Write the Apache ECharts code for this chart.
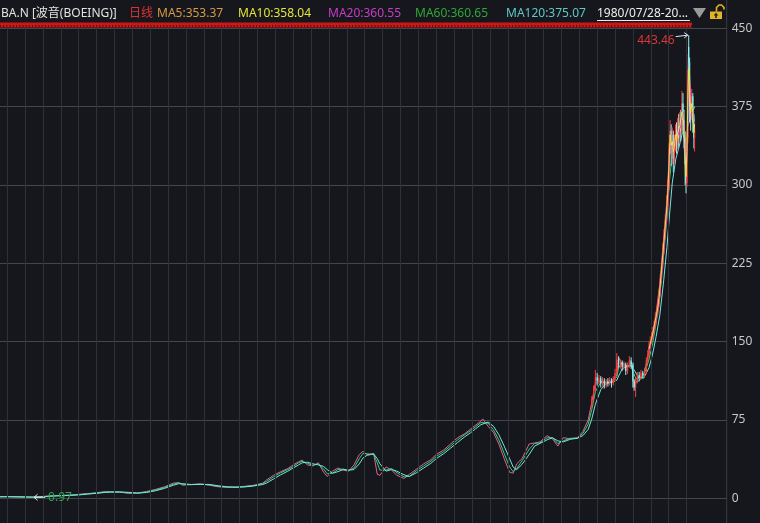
<!DOCTYPE html>
<html><head><meta charset="utf-8">
<script src="https://cdn.jsdelivr.net/npm/echarts@6/dist/echarts.min.js"></script>
<style>html,body{margin:0;padding:0;background:#16171c;}#c{width:760px;height:523px;}</style>
</head><body><div id="c"></div>
<script>
// ---- data (decimal year) ----
const dates = [
  1980.6, 1981.0, 1981.5, 1982.0, 1982.45, 1983.0, 1983.5, 1984.0, 1984.5, 1985.0,
  1985.5, 1986.0, 1986.5, 1986.8, 1987.3, 1987.8, 1988.3, 1988.8, 1989.3, 1989.8,
  1990.3, 1990.6, 1990.8, 1991.3, 1991.8, 1992.3, 1992.8, 1993.3, 1993.8, 1994.3,
  1994.8, 1995.3, 1995.5, 1995.9, 1996.3, 1996.7, 1997.0, 1997.3, 1997.5, 1997.8,
  1998.1, 1998.4, 1998.7, 1998.9, 1999.2, 1999.5, 1999.8, 2000.1, 2000.4, 2000.7,
  2000.9, 2001.2, 2001.5, 2001.7, 2001.85, 2002.2, 2002.5, 2002.8, 2003.2, 2003.5,
  2003.9, 2004.3, 2004.7, 2005.0, 2005.4, 2005.8, 2006.2, 2006.6, 2006.9, 2007.2,
  2007.5, 2007.6, 2007.9, 2008.2, 2008.5, 2008.8, 2009.1, 2009.3, 2009.5, 2009.8,
  2010.2, 2010.5, 2010.8, 2011.2, 2011.5, 2011.8, 2012.1, 2012.5, 2012.9, 2013.2,
  2013.5, 2013.7, 2013.9, 2014.2, 2014.5, 2014.8, 2015.1, 2015.2, 2015.4, 2015.7,
  2015.9, 2016.1, 2016.3, 2016.6, 2016.9, 2017.1, 2017.3, 2017.5, 2017.7, 2017.9,
  2018.05, 2018.2, 2018.4, 2018.6, 2018.8, 2018.95, 2019.1, 2019.3, 2019.45
];
const closes = [
  1.5, 1.6, 1.3, 1.2, 0.97, 1.8, 2.5, 2.7, 3.0, 3.8,
  4.5, 5.3, 6.5, 6.0, 6.0, 4.6, 5.0, 6.5, 8.5, 11,
  14.5, 15, 12.5, 13.2, 13.8, 12.5, 11, 10.5, 10.8, 11.5,
  12.5, 14.5, 17.5, 22, 25.5, 28.5, 32, 35, 36.5, 32,
  31, 34, 25, 21, 26, 29, 27, 26, 32, 42,
  45, 41, 43, 23, 22, 30, 27, 22, 19, 23,
  28, 33, 37, 42, 46, 52, 58, 62, 66, 70,
  74, 76, 69, 63, 52, 38, 25, 24, 33, 38,
  52, 53, 54, 60, 57, 50, 58, 57, 58, 64,
  75, 92, 110, 112, 110, 112, 118, 135, 128, 125,
  130, 108, 115, 118, 140, 155, 178, 205, 245, 285,
  335, 340, 345, 352, 365, 305, 425, 368, 352
];
const ma60 = [
  1.5, 1.6, 1.4, 1.2, 1.1, 1.5, 2.3, 2.6, 2.9, 3.5,
  4.3, 5.0, 6.0, 6.2, 6.0, 5.3, 4.9, 6.0, 8.0, 10.3,
  13.5, 14.8, 13.5, 13.0, 13.5, 13.0, 11.5, 10.7, 10.6, 11.2,
  12.2, 14.0, 16.0, 20.5, 24.5, 27.5, 30.5, 34.0, 35.5, 33.5,
  31.5, 33.0, 28.0, 23.5, 24.0, 27.5, 28.0, 26.5, 29.0, 38.0,
  43.0, 42.5, 42.0, 34.0, 27.0, 27.0, 28.5, 24.5, 20.5, 21.0,
  26.5, 31.0, 35.5, 40.0, 44.5, 50.0, 56.0, 61.0, 64.5, 68.5,
  72.5, 74.0, 72.0, 65.5, 56.0, 43.0, 30.0, 25.5, 28.5, 36.0,
  47.0, 52.5, 53.0, 58.0, 58.0, 52.5, 55.0, 57.5, 57.5, 62.0,
  71.0, 85.0, 102, 111, 111, 111, 116, 125, 130, 126,
  127, 117, 112, 117, 133, 148, 168, 192, 230, 268,
  305, 330, 340, 348, 362, 340, 370, 378, 360.65
];
const ma120 = [
  1.5, 1.5, 1.5, 1.3, 1.2, 1.3, 2.0, 2.5, 2.8, 3.2,
  4.0, 4.8, 5.6, 6.0, 6.0, 5.7, 5.0, 5.6, 7.2, 9.5,
  12.5, 14.0, 14.0, 13.2, 13.3, 13.3, 12.0, 11.0, 10.6, 10.9,
  11.8, 13.2, 14.5, 18.5, 22.5, 26.0, 29.0, 32.0, 34.0, 34.5,
  33.0, 32.0, 30.5, 27.5, 24.0, 25.5, 27.5, 27.0, 27.5, 33.0,
  38.5, 42.0, 42.5, 38.0, 33.0, 26.0, 27.5, 26.0, 22.5, 21.0,
  24.5, 29.0, 33.5, 38.0, 42.5, 48.0, 53.5, 59.0, 62.5, 66.5,
  70.5, 72.0, 73.0, 69.0, 61.0, 50.0, 38.0, 30.0, 27.5, 32.5,
  42.0, 50.0, 52.5, 56.0, 58.0, 55.0, 54.0, 56.5, 57.5, 60.0,
  66.0, 76.0, 90, 104, 110, 111, 113, 117, 124, 127,
  127, 122, 116, 115, 125, 138, 155, 175, 205, 240,
  272, 302, 325, 338, 352, 350, 358, 368, 375.07
];
// candles (open, close, low, high) where the bars are visible
const candleDates = [
  2013.70, 2013.80, 2013.90, 2014.00, 2014.10, 2014.20, 2014.30, 2014.40, 2014.50, 2014.60,
  2014.70, 2014.80, 2014.90, 2015.00, 2015.10, 2015.20, 2015.30, 2015.40, 2015.50, 2015.60,
  2015.70, 2015.80, 2015.90, 2016.00, 2016.07, 2016.15, 2016.25, 2016.35, 2016.45, 2016.55,
  2016.65, 2016.75, 2016.83,
  2016.90, 2016.97, 2017.04, 2017.11, 2017.18, 2017.25, 2017.32, 2017.39, 2017.46, 2017.53,
  2017.60, 2017.67, 2017.74, 2017.81, 2017.88, 2017.95, 2018.02, 2018.08, 2018.14, 2018.20,
  2018.26, 2018.32, 2018.38, 2018.44, 2018.50, 2018.56, 2018.62, 2018.68, 2018.74, 2018.80,
  2018.86, 2018.92, 2018.97, 2019.02, 2019.07, 2019.12, 2019.17, 2019.23, 2019.29, 2019.35,
  2019.41, 2019.45
];
const candleOpen = [
  88, 95, 104, 116, 112, 115, 110, 113, 108, 112,
  110, 113, 110, 114, 120, 133, 128, 130, 126, 128,
  122, 127, 132, 128, 112, 106, 112, 118, 116, 120,
  118, 122, 132,
  138, 145, 150, 155, 160, 166, 172, 178, 186, 196,
  210, 224, 238, 252, 266, 280, 298, 335, 352, 330,
  348, 325, 342, 350, 338, 356, 345, 362, 352, 378,
  362, 345, 320, 302, 345, 432, 418, 375, 368, 385,
  360, 345
];
const candleClose = [
  95, 104, 116, 112, 115, 110, 113, 108, 112, 110,
  113, 110, 114, 120, 133, 128, 130, 126, 128, 122,
  127, 132, 128, 112, 106, 112, 118, 116, 120, 118,
  122, 132, 138,
  145, 150, 155, 160, 166, 172, 178, 186, 196, 210,
  224, 238, 252, 266, 280, 298, 335, 352, 330, 348,
  325, 342, 350, 338, 356, 345, 362, 352, 378, 362,
  345, 320, 302, 345, 400, 418, 375, 368, 385, 360,
  345, 352
];
const candleLow = [
  86, 93, 102, 108, 109, 106, 107, 105, 106, 107,
  108, 106, 108, 112, 118, 125, 124, 122, 123, 118,
  119, 125, 124, 106, 103, 97, 110, 112, 114, 115,
  116, 120, 130,
  136, 143, 148, 152, 157, 163, 168, 175, 183, 193,
  206, 220, 234, 248, 262, 276, 295, 330, 318, 320,
  312, 320, 332, 330, 334, 336, 340, 342, 348, 352,
  335, 300, 292, 298, 340, 405, 360, 352, 362, 350,
  335, 332
];
const candleHigh = [
  98, 108, 123, 120, 118, 117, 116, 115, 114, 115,
  116, 115, 117, 124, 139, 136, 133, 132, 131, 130,
  130, 136, 135, 130, 114, 115, 121, 121, 123, 122,
  125, 135, 142,
  150, 155, 159, 164, 170, 178, 183, 190, 200, 215,
  228, 244, 258, 272, 290, 305, 340, 362, 358, 355,
  352, 348, 358, 360, 364, 368, 370, 372, 390, 388,
  372, 350, 330, 350, 410, 443.46, 422, 385, 392, 388,
  368, 358
];
// short moving averages over the most recent stretch
const recentDates = [
  2016.90, 2016.97, 2017.04, 2017.11, 2017.18, 2017.25, 2017.32, 2017.39, 2017.46, 2017.53,
  2017.60, 2017.67, 2017.74, 2017.81, 2017.88, 2017.95, 2018.02, 2018.08, 2018.14, 2018.20,
  2018.26, 2018.32, 2018.38, 2018.44, 2018.50, 2018.56, 2018.62, 2018.68, 2018.74, 2018.80,
  2018.86, 2018.92, 2018.97, 2019.02, 2019.07, 2019.12, 2019.17, 2019.23, 2019.29, 2019.35,
  2019.41, 2019.45
];
const ma10Recent = [
  143, 148, 153, 158, 164, 170, 176, 183, 192, 205,
  219, 233, 247, 261, 275, 292, 322, 348, 338, 342,
  332, 337, 348, 342, 350, 349, 357, 356, 370, 367,
  352, 330, 308, 332, 382, 412, 390, 370, 378, 368,
  350, 358.04
];
const ma20Recent = [
  141, 146, 151, 156, 162, 168, 174, 180, 189, 200,
  214, 228, 242, 256, 270, 286, 312, 340, 342, 340,
  336, 334, 345, 344, 347, 350, 354, 357, 366, 370,
  358, 338, 315, 322, 365, 400, 398, 378, 375, 372,
  358, 360.55
];
const yearLines = [1981,1982,1983,1984,1985,1986,1987,1988,1989,1990,1991,1992,1993,1994,1995,1996,1997,1998,1999,2000,2001,2002,2003,2004,2005,2006,2007,2008,2009,2010,2011,2012,2013,2014,2015,2016,2017,2018,2019];
const yTickStep = 75;
const peakValue = 443.46, peakDate = 2019.12;
const lowValue = 0.97, lowDate = 1982.45;
const titleText = 'BA.N [波音(BOEING)]';
const periodText = '日线';
const maLabels = ['MA5:353.37', 'MA10:358.04', 'MA20:360.55', 'MA60:360.65', 'MA120:375.07'];
const rangeText = '1980/07/28-20...';

// ---- chart ----
const FONT = '"Noto Sans", "Noto Sans CJK SC", sans-serif';
const chart = echarts.init(document.getElementById('c'), null, {renderer: 'canvas'});
const zip = (a, b) => a.map((v, i) => [v, b[i]]);
const candleData = candleDates.map((d, i) => [d, candleOpen[i], candleClose[i], candleLow[i], candleHigh[i]]);
const upColor = '#ff3c3c', downColor = '#8ff0f0';

chart.setOption({
  animation: false,
  backgroundColor: '#16171c',
  grid: {left: -10.76, right: 33.3, top: -50.03, bottom: -53.63, outerBoundsMode: 'none', containLabel: false,
    show: true, borderColor: '#3a3b40', borderWidth: 1, backgroundColor: 'transparent'},
  xAxis: {type: 'value', min: 1980, max: 2021.245, axisLine: {show: false}, axisTick: {show: false}, axisLabel: {show: false}, splitLine: {show: false}},
  yAxis: {type: 'value', position: 'right', min: -75, max: 525, interval: yTickStep,
    axisLine: {show: false}, axisTick: {show: false},
    axisLabel: {color: '#c8c8c8', fontSize: 12, margin: 5, fontFamily: FONT},
    splitLine: {lineStyle: {color: '#45464b', width: 1}}},
  series: [
    {type: 'line', data: zip(dates, closes), showSymbol: false, lineStyle: {color: '#e0609a', width: 1}, z: 2,
      markLine: {silent: true, symbol: ['none', 'none'], label: {show: false}, animation: false,
        lineStyle: {type: 'solid', color: '#303136', width: 1}, emphasis: {disabled: true},
        data: yearLines.map(y => ({xAxis: y}))}},
    {type: 'line', data: zip(dates, ma60), showSymbol: false, lineStyle: {color: '#35d46a', width: 1}, z: 3},
    {type: 'line', data: zip(dates, ma120), showSymbol: false, lineStyle: {color: '#74e4e0', width: 1}, z: 4},
    {type: 'custom', data: candleData, encode: {x: 0, y: [1, 2, 3, 4]}, z: 5,
      renderItem: function (params, api) {
        const x = api.value(0), o = api.value(1), c = api.value(2), l = api.value(3), h = api.value(4);
        const pO = api.coord([x, o]), pC = api.coord([x, c]), pL = api.coord([x, l]), pH = api.coord([x, h]);
        const col = c >= o ? upColor : downColor;
        const top = Math.min(pO[1], pC[1]);
        const bh = Math.max(1, Math.abs(pO[1] - pC[1]));
        return {type: 'group', children: [
          {type: 'line', shape: {x1: pL[0], y1: pL[1], x2: pH[0], y2: pH[1]}, style: {stroke: col, lineWidth: 1}},
          {type: 'rect', shape: {x: pO[0] - 0.6, y: top, width: 1.2, height: bh}, style: {fill: col}}
        ]};
      }},
    {type: 'line', data: zip(recentDates, ma20Recent), showSymbol: false, lineStyle: {color: '#d23cd2', width: 1}, z: 6},
    {type: 'line', data: zip(recentDates, ma10Recent), showSymbol: false, lineStyle: {color: '#e6e640', width: 1}, z: 7}
  ]
});

// annotations and header, positioned through the chart's own scales
const pk = chart.convertToPixel({xAxisIndex: 0, yAxisIndex: 0}, [peakDate, peakValue]);
const lw = chart.convertToPixel({xAxisIndex: 0, yAxisIndex: 0}, [lowDate, lowValue]);
const txt = (text, x, y, fill, align) => ({type: 'text', z: 101, style: {text: text, x: x, y: y, fill: fill, font: '12px ' + FONT, textAlign: align || 'left', textVerticalAlign: 'middle'}});
const maColors = ['#d89a40', '#e4e43c', '#c83cc8', '#2ea836', '#5ec8c8'];
const maX = [157, 238, 328, 415, 506];
const g = [
  {type: 'rect', z: 100, shape: {x: 0, y: 0, width: 726, height: 22.5}, style: {fill: '#16171c'}},
  {type: 'rect', z: 100, shape: {x: 0, y: 22.5, width: 692, height: 5}, style: {fill: '#c81818'}},
  {type: 'line', z: 101, shape: {x1: 0, y1: 26, x2: 692, y2: 26}, style: {stroke: '#5c0c0c', lineWidth: 2, lineDash: [1, 2.2]}},
  txt(titleText, 1, 14, '#e2e2e2'),
  txt(periodText, 129, 14, '#e03030'),
  txt(rangeText, 597, 14, '#ececec'),
  {type: 'line', z: 101, shape: {x1: 597, y1: 20.5, x2: 690, y2: 20.5}, style: {stroke: '#ececec', lineWidth: 1}},
  {type: 'polygon', z: 101, shape: {points: [[693, 8], [706, 8], [699.5, 18]]}, style: {fill: '#9a9a9a'}},
  {type: 'rect', z: 101, shape: {x: 710, y: 11.5, width: 12, height: 7.5}, style: {fill: '#e2b423'}},
  {type: 'polyline', z: 101, shape: {points: [[716.5, 11.5], [716.5, 7.5], [719, 5], [721.5, 5], [724, 7.5], [724, 9.5]]}, style: {stroke: '#e2b423', lineWidth: 1.6, fill: null}},
  {type: 'polygon', z: 102, shape: {points: [[716, 12.8], [713.6, 15.4], [715.2, 15.4], [715.2, 18], [716.8, 18], [716.8, 15.4], [718.4, 15.4]]}, style: {fill: '#222'}},
  // peak label
  txt(String(peakValue), pk[0] - 14, pk[1] + 5, '#d8363c', 'right'),
  {type: 'line', z: 101, shape: {x1: pk[0] - 13, y1: pk[1] + 1.5, x2: pk[0] - 1, y2: pk[1]}, style: {stroke: '#dcecff', lineWidth: 1}},
  {type: 'polyline', z: 101, shape: {points: [[pk[0] - 4.5, pk[1] - 2.5], [pk[0] - 1, pk[1]], [pk[0] - 4.5, pk[1] + 2.8]]}, style: {stroke: '#dcecff', lineWidth: 1, fill: null}},
  // low label
  {type: 'line', z: 101, shape: {x1: lw[0] + 1, y1: lw[1], x2: lw[0] + 12, y2: lw[1]}, style: {stroke: '#e8e8e8', lineWidth: 1}},
  {type: 'polyline', z: 101, shape: {points: [[lw[0] + 4.5, lw[1] - 3], [lw[0] + 1, lw[1]], [lw[0] + 4.5, lw[1] + 3]]}, style: {stroke: '#e8e8e8', lineWidth: 1, fill: null}},
  txt(String(lowValue), lw[0] + 15, lw[1], '#2fa552')
];
maLabels.forEach((t, i) => g.push(txt(t, maX[i], 14, maColors[i])));
chart.setOption({graphic: {elements: g}});
</script></body></html>
